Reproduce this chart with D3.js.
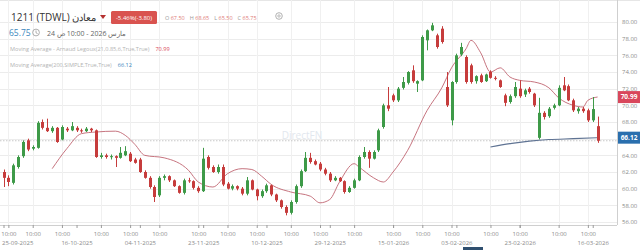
<!DOCTYPE html>
<html>
<head>
<meta charset="utf-8">
<script src="https://cdn.jsdelivr.net/npm/d3@7"></script>
<style>
  body { margin: 0; background: #fff; }
  svg { display: block; font-family: "Open Sans", sans-serif; }
</style>
</head>
<body>
<svg id="chart" width="640" height="250"></svg>
<script>
// daily candles, 25-09-2025 .. 24-03-2026 (index 0..122)
var opens = [62.0,61.3,60.7,62.6,63.9,65.8,64.8,64.9,68.0,67.3,66.9,67.3,65.9,67.2,67.0,67.3,67.0,66.9,67.2,67.0,
  63.8,64.0,63.8,63.9,63.7,64.0,64.2,63.5,63.5,62.0,61.3,60.2,59.2,61.3,61.5,61.0,60.3,59.5,61.0,60.9,
  60.1,59.7,63.8,62.6,62.0,62.6,60.6,60.0,60.3,60.0,59.4,61.0,59.9,59.1,59.7,60.4,59.3,58.6,57.8,57.1,
  58.4,60.3,62.1,63.7,63.3,63.0,62.3,61.8,61.0,61.3,60.9,59.6,60.1,61.0,63.8,64.4,63.6,64.6,67.4,70.0,
  71.2,70.6,72.1,72.7,74.2,72.6,73.0,77.8,79.0,78.4,79.2,72.2,68.2,72.8,76.1,75.8,74.8,72.9,73.6,72.9,
  74.0,73.3,73.0,71.2,70.4,71.1,72.0,71.3,72.0,71.4,66.1,69.1,68.7,69.7,70.0,72.4,72.3,70.6,69.3,69.6,
  69.4,68.2,67.5];
var highs = [62.3,61.6,63.0,64.0,65.8,66.0,65.2,68.1,68.3,68.4,67.5,67.4,67.6,67.4,68.0,67.5,67.2,67.4,67.3,67.1,
  64.3,64.2,64.1,64.0,65.0,65.1,64.4,63.7,63.7,62.2,61.5,60.4,61.5,61.7,61.6,61.1,60.4,61.2,61.3,61.0,
  60.3,64.9,64.0,62.8,62.9,62.9,60.8,60.5,60.4,60.2,61.4,61.1,60.0,59.9,60.6,60.5,59.4,58.7,58.0,58.6,
  60.5,62.3,64.4,64.3,63.5,63.2,62.5,62.0,61.5,61.4,61.0,60.3,61.2,64.0,65.0,64.6,64.6,67.2,70.2,72.2,
  71.4,72.2,73.4,74.1,74.8,73.0,78.4,79.1,79.9,78.6,79.5,74.0,72.9,76.2,77.5,76.0,75.0,73.6,73.8,73.8,
  74.2,73.5,73.1,71.4,71.3,72.8,73.0,72.0,72.2,71.5,70.9,69.3,69.8,70.2,72.4,73.4,72.5,70.8,69.8,69.8,
  69.6,71.0,68.65];
var lows = [60.2,60.3,60.5,62.4,63.7,64.5,64.6,64.8,67.1,66.8,66.7,65.5,65.8,66.8,66.9,66.8,66.7,66.8,66.8,63.7,
  63.6,63.6,63.5,62.6,63.6,63.9,63.2,63.0,61.9,61.2,60.0,58.4,59.0,61.0,60.8,60.2,59.4,59.3,60.7,59.9,
  59.5,59.6,62.3,61.9,61.8,60.3,59.9,59.8,59.8,59.2,59.2,59.8,58.6,58.9,59.5,59.1,58.4,57.6,56.8,56.9,
  58.2,60.1,62.0,63.0,62.8,62.1,61.6,60.8,60.9,60.8,59.4,59.5,60.0,60.9,63.6,62.5,63.5,64.4,67.2,69.3,
  70.4,70.4,71.9,72.5,72.7,71.6,72.9,76.6,78.9,76.8,77.4,69.8,67.6,72.6,75.9,72.6,72.6,72.6,72.7,72.8,
  73.2,73.0,72.1,69.9,70.2,70.9,70.9,71.0,71.4,69.8,65.9,68.3,68.5,69.5,69.9,71.7,70.5,69.2,69.0,69.1,
  68.0,68.0,65.5];
var closes = [61.3,60.8,62.8,63.8,65.6,64.7,65.0,67.9,67.3,66.9,67.3,65.6,67.4,67.0,67.5,67.0,66.9,67.2,67.0,63.8,
  64.0,63.8,63.9,63.7,64.3,64.5,63.3,63.1,62.0,61.3,60.2,59.0,61.3,61.5,61.0,60.3,59.5,61.0,60.9,60.1,
  59.7,63.6,62.5,62.0,62.6,60.5,60.0,60.3,60.0,59.4,61.0,59.9,59.1,59.7,60.4,59.3,58.6,57.8,57.1,58.4,
  60.3,62.1,63.7,63.2,62.9,62.3,61.8,61.0,61.3,60.9,59.6,60.1,61.0,63.8,64.4,63.6,64.4,67.0,70.0,69.6,
  70.6,72.0,72.8,74.0,72.9,72.9,78.2,79.0,79.6,77.0,77.6,70.0,72.8,76.0,77.0,72.8,72.8,73.5,72.8,73.7,
  73.3,73.2,72.2,70.3,71.1,72.2,71.1,71.8,71.6,70.0,69.1,68.6,69.6,70.0,72.1,71.8,70.6,69.4,69.6,69.3,
  68.2,69.55,65.75];

// Arnaud Legoux moving average (candle index / value)
var almaIdx = [10,13,16,19,23,25,27,29,33,38,40,43,46,49,51,53,55,59,63,65,67,69,72,73,76,78,80,83,87,90,92,95,96,98,100,102,104,106,109,112,114,117,119,120,122];
var almaVal = [62.4,64.8,66.6,66.8,66.9,66.4,65.3,64.0,63.7,62.2,60.8,60.2,61.8,62.4,62.3,61.5,60.5,59.6,59.1,58.3,58.7,60.8,63.0,62.6,61.3,60.8,62.0,64.6,69.4,72.1,74.5,76.8,77.8,76.3,74.0,74.5,73.4,73.0,72.8,72.1,70.9,70.0,69.8,70.6,71.0];

// simple moving average 200
var smaIdx = [100,104,108,112,117,122];
var smaVal = [65.0,65.4,65.7,65.9,66.0,66.12];

var timeTicks = [1,6,12,20,26,32,40,46,52,59,65,72,80,86,92,100,106,114,120];
var dateTicks = [0,15,28,41,54,67,80,93,106,121];
var dateLabels = ['25-09-2025','16-10-2025','04-11-2025','23-11-2025','10-12-2025','29-12-2025','15-01-2026','03-02-2026','23-02-2026','16-03-2026'];
var yTicks = d3.range(56, 81, 2);

var lastClose = 65.75, almaLast = 70.99, smaLast = 66.12;

var svg = d3.select('#chart');
var plotRight = 617, plotBottom = 225;

var x = d3.scaleLinear().domain([0, 122]).range([3.5, 597.6]);
var y = d3.scaleLinear().domain([56, 80]).range([222, 22]);

var up = '#3e9a48', down = '#c63c3c';

// grid
svg.append('line').attr('x1', 0).attr('x2', 640).attr('y1', 0.5).attr('y2', 0.5).attr('stroke', '#e6e6e6');
svg.append('g').selectAll('line').data(yTicks).join('line')
  .attr('x1', 0).attr('x2', plotRight)
  .attr('y1', function(d) { return Math.round(y(d)) + 0.5; })
  .attr('y2', function(d) { return Math.round(y(d)) + 0.5; })
  .attr('stroke', '#ececec');
svg.append('g').selectAll('line').data(timeTicks).join('line')
  .attr('x1', function(d) { return Math.round(x(d)) + 0.5; })
  .attr('x2', function(d) { return Math.round(x(d)) + 0.5; })
  .attr('y1', 0).attr('y2', plotBottom)
  .attr('stroke', '#f0f0f0');

// watermark
svg.append('text').attr('x', 302).attr('y', 139).attr('text-anchor', 'middle')
  .attr('font-size', 10).attr('fill', '#e2e7ee').text('DirectFN');

// last price line
svg.append('line').attr('x1', 0).attr('x2', plotRight)
  .attr('y1', y(lastClose)).attr('y2', y(lastClose))
  .attr('stroke', '#c8c8c8').attr('stroke-dasharray', '1.5,1.5');

// moving averages
var alma = almaIdx.map(function(d, i) { return [d, almaVal[i]]; });
var sma = smaIdx.map(function(d, i) { return [d, smaVal[i]]; });
var line = d3.line().x(function(d) { return x(d[0]); }).y(function(d) { return y(d[1]); }).curve(d3.curveMonotoneX);
svg.append('path').attr('d', line(alma)).attr('fill', 'none').attr('stroke', '#bf6470').attr('stroke-width', 0.9);
svg.append('path').attr('d', line(sma)).attr('fill', 'none').attr('stroke', '#5f7393').attr('stroke-width', 1.1);

// candles
var candles = svg.append('g').selectAll('g').data(d3.range(opens.length)).join('g');
candles.append('line')
  .attr('x1', function(i) { return Math.round(x(i)) + 0.5; })
  .attr('x2', function(i) { return Math.round(x(i)) + 0.5; })
  .attr('y1', function(i) { return y(highs[i]); })
  .attr('y2', function(i) { return y(lows[i]); })
  .attr('stroke', function(i) { return closes[i] >= opens[i] ? up : down; });
candles.append('rect')
  .attr('x', function(i) { return Math.round(x(i)) - 1; })
  .attr('width', 3)
  .attr('y', function(i) { return y(Math.max(opens[i], closes[i])); })
  .attr('height', function(i) { return Math.max(1, Math.abs(y(opens[i]) - y(closes[i]))); })
  .attr('fill', function(i) { return closes[i] >= opens[i] ? up : down; });

// y axis (labels sitting under the value badges are left out)
svg.append('line').attr('x1', plotRight + 0.5).attr('x2', plotRight + 0.5).attr('y1', 0).attr('y2', plotBottom).attr('stroke', '#cfcfcf');
var shownY = yTicks.filter(function(d) {
  return Math.abs(y(d) - y(almaLast)) > 7 && Math.abs(y(d) - y(smaLast)) > 7;
});
var yAxis = svg.append('g').attr('transform', 'translate(' + plotRight + ',0)')
  .call(d3.axisRight(y).tickValues(shownY).tickSize(0).tickPadding(5).tickFormat(d3.format('.2f')));
yAxis.select('.domain').remove();
yAxis.selectAll('text').attr('font-size', 6).attr('fill', '#8a8a8a').attr('font-family', '"Open Sans", sans-serif');

// x axis
svg.append('line').attr('x1', 0).attr('x2', plotRight).attr('y1', plotBottom + 0.5).attr('y2', plotBottom + 0.5).attr('stroke', '#cfcfcf');
var tAxis = svg.append('g').attr('transform', 'translate(0,' + plotBottom + ')')
  .call(d3.axisBottom(x).tickValues(timeTicks).tickSize(3).tickPadding(4).tickFormat(function() { return '10:00'; }));
var dAxis = svg.append('g').attr('transform', 'translate(0,' + plotBottom + ')')
  .call(d3.axisBottom(x).tickValues(dateTicks).tickSize(3).tickPadding(13)
    .tickFormat(function(d, i) { return dateLabels[i]; }));
[tAxis, dAxis].forEach(function(g) {
  g.select('.domain').remove();
  g.selectAll('line').attr('stroke', '#9a9a9a');
  g.selectAll('text').attr('font-size', 6).attr('fill', '#8a8a8a').attr('font-family', '"Open Sans", sans-serif');
});
dAxis.selectAll('text').filter(function(d) { return d === 0; }).attr('text-anchor', 'start').attr('x', -2);

// right-side value badges
[[almaLast, '#d9475c'], [smaLast, '#2a6fae']].forEach(function(b) {
  var g = svg.append('g').attr('transform', 'translate(618,' + y(b[0]) + ')');
  g.append('rect').attr('x', 0).attr('y', -6).attr('width', 22).attr('height', 12).attr('fill', b[1]);
  g.append('text').attr('x', 11).attr('y', 2.3).attr('text-anchor', 'middle').attr('font-size', 6.5)
    .attr('font-weight', 'bold').attr('fill', '#fff').text(d3.format('.2f')(b[0]));
});

// header
svg.append('text').attr('x', 11).attr('y', 21).attr('font-size', 10).attr('fill', '#333').text('1211 (TDWL) معادن');
svg.append('path').attr('d', 'M100,15 L106,15 L103,19 Z').attr('fill', '#b5302f');
svg.append('rect').attr('x', 111).attr('y', 11).attr('width', 46).attr('height', 13).attr('rx', 1.5).attr('fill', '#d9534f');
svg.append('text').attr('x', 134).attr('y', 19.8).attr('text-anchor', 'middle').attr('font-size', 6)
  .attr('fill', '#fff').text('-5.46%(-3.80)');
var ohlc = svg.append('text').attr('x', 165).attr('y', 19.5).attr('font-size', 5.5);
[['O', '67.50'], ['H', '68.65'], ['L', '65.50'], ['C', '65.75']].forEach(function(p, i) {
  ohlc.append('tspan').attr('dx', i ? 5 : 0).attr('fill', '#9a9a9a').text(p[0] + ' ');
  ohlc.append('tspan').attr('fill', '#e07b78').text(p[1]);
});
svg.append('circle').attr('cx', 279).attr('cy', 16).attr('r', 3.3).attr('fill', 'none').attr('stroke', '#a8a8a8').attr('stroke-width', 0.9);
svg.append('circle').attr('cx', 279).attr('cy', 16).attr('r', 1.2).attr('fill', 'none').attr('stroke', '#a8a8a8').attr('stroke-width', 0.8);

svg.append('text').attr('x', 9).attr('y', 35.5).attr('font-size', 8.5).attr('fill', '#3a86bd').text('65.75');
svg.append('circle').attr('cx', 36).attr('cy', 32.5).attr('r', 3.4).attr('fill', 'none').attr('stroke', '#999').attr('stroke-width', 0.8);
svg.append('path').attr('d', 'M36,30.5 L36,32.8 L37.6,33.6').attr('fill', 'none').attr('stroke', '#999').attr('stroke-width', 0.8);
// LRM marks keep the visual order "24 ص 10:00 - 2026 مارس"
svg.append('text').attr('x', 47).attr('y', 35.5).attr('font-size', 7).attr('fill', '#666')
  .text('24 ص\u200E 10:00 - 2026 \u200Eمارس');

// legends
var l1 = svg.append('text').attr('x', 10).attr('y', 51).attr('font-size', 5.6);
l1.append('tspan').attr('fill', '#b3b3b3').text('Moving Average - Arnaud Legoux(21,0.85,6,True,True)');
l1.append('tspan').attr('dx', 6).attr('fill', '#d9475c').text('70.99');
var l2 = svg.append('text').attr('x', 10).attr('y', 67).attr('font-size', 5.6);
l2.append('tspan').attr('fill', '#b3b3b3').text('Moving Average(200,SIMPLE,True,True)');
l2.append('tspan').attr('dx', 6).attr('fill', '#3a86bd').text('66.12');

// scroll handle
svg.append('rect').attr('x', 463).attr('y', 247).attr('width', 20).attr('height', 3).attr('fill', '#2f4f6f');
</script>
</body>
</html>
